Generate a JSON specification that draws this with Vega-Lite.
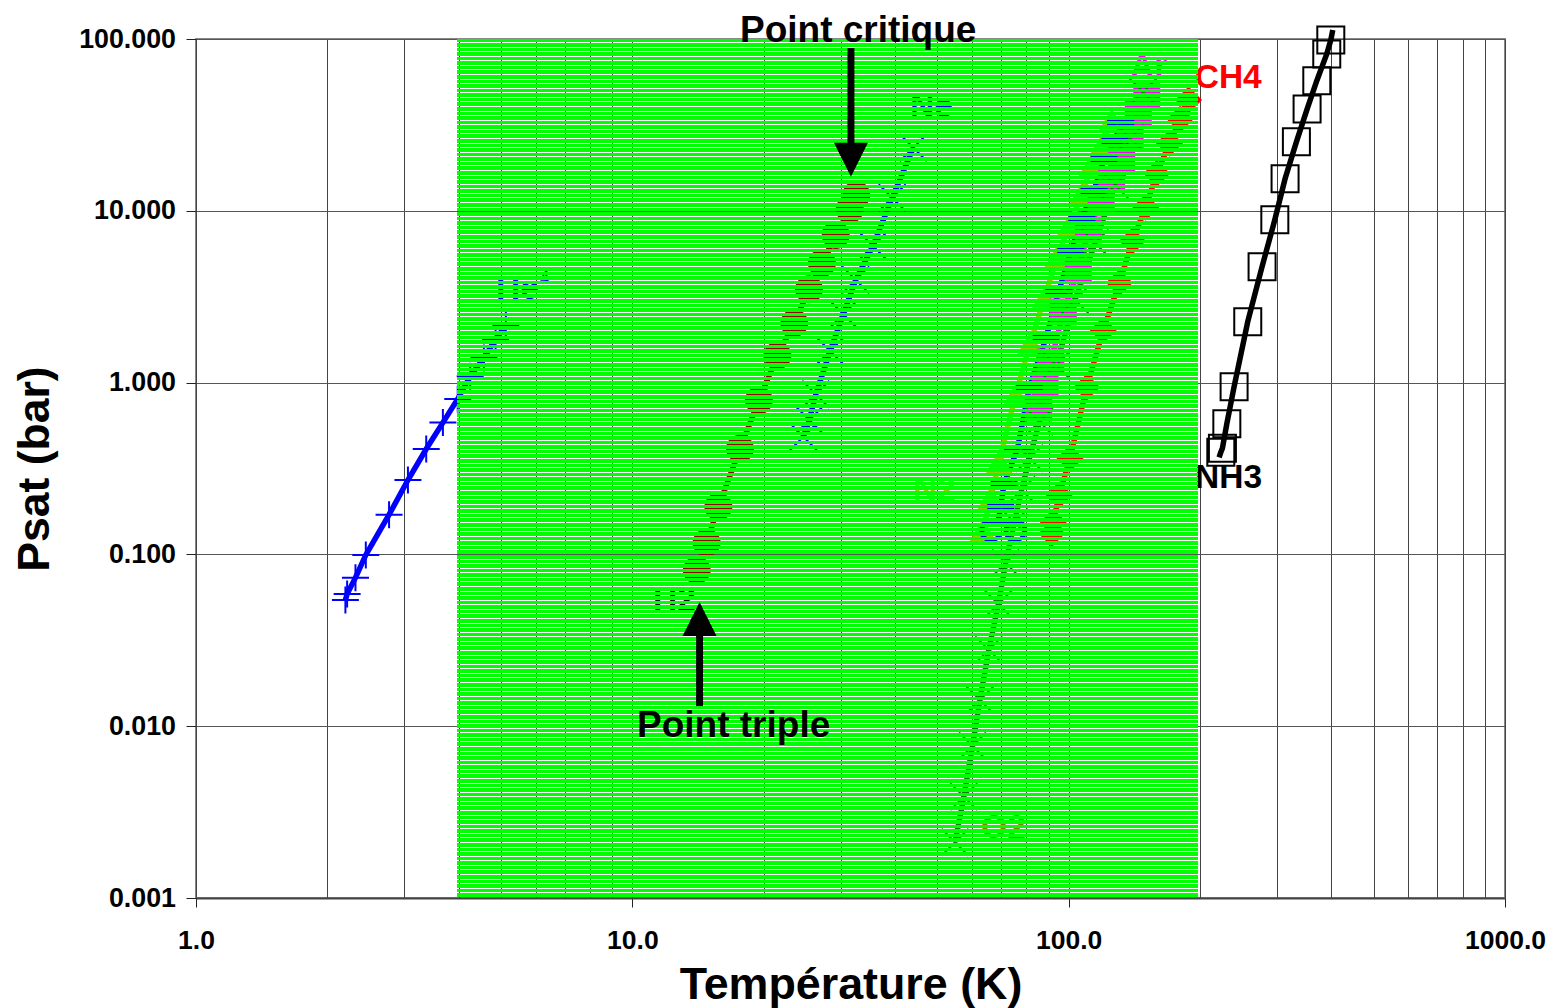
{"$schema":"https://vega.github.io/schema/vega-lite/v6.json","width":1309,"height":859,"autosize":{"type":"none"},"padding":{"left":196,"top":39,"right":46,"bottom":110},"background":"white","config":{"view":{"stroke":"#888888","strokeWidth":2},"font":"Liberation Sans"},"datasets":{"curves":[
{"series":"He","T":2.2,"P":0.0543},{"series":"He","T":2.22,"P":0.0588},{"series":"He","T":2.32,"P":0.0732},{"series":"He","T":2.45,"P":0.0993},{"series":"He","T":2.77,"P":0.1703},{"series":"He","T":3.06,"P":0.271},{"series":"He","T":3.37,"P":0.4106},{"series":"He","T":3.68,"P":0.585},{"series":"He","T":3.98,"P":0.803},{"series":"He","T":4.25,"P":1.09},{"series":"He","T":4.57,"P":1.39},{"series":"He","T":4.86,"P":1.786},{"series":"He","T":5.13,"P":2.156},
{"series":"H2","T":14.05,"P":0.0811},{"series":"H2","T":14.8,"P":0.117},{"series":"H2","T":15.75,"P":0.1896},{"series":"H2","T":17.65,"P":0.4125},{"series":"H2","T":19.5,"P":0.789},{"series":"H2","T":21.5,"P":1.434},{"series":"H2","T":23.5,"P":2.22},{"series":"H2","T":25.4,"P":3.49},{"series":"H2","T":27.2,"P":4.95},{"series":"H2","T":29.25,"P":7.23},{"series":"H2","T":31.5,"P":10.2},{"series":"H2","T":32.6,"P":12.36},
{"series":"Ne","T":24.66,"P":0.484},{"series":"Ne","T":25.45,"P":0.606},{"series":"Ne","T":26.33,"P":0.855},{"series":"Ne","T":28.4,"P":1.527},{"series":"Ne","T":30.45,"P":2.5},{"series":"Ne","T":32.5,"P":3.96},{"series":"Ne","T":35.6,"P":6.24},{"series":"Ne","T":39.4,"P":11.9},{"series":"Ne","T":44.06,"P":23.3},
{"series":"N2","T":63.6,"P":0.1387},{"series":"N2","T":66.3,"P":0.2129},{"series":"N2","T":69.3,"P":0.3464},{"series":"N2","T":75.6,"P":0.847},{"series":"N2","T":81.7,"P":1.7},{"series":"N2","T":88,"P":3.1},{"series":"N2","T":94.2,"P":5.4},{"series":"N2","T":100.6,"P":8.27},{"series":"N2","T":107.5,"P":12.65},{"series":"N2","T":113,"P":18.5},{"series":"N2","T":120,"P":24.7},{"series":"N2","T":125.5,"P":33.8},
{"series":"Ar","T":85.4,"P":0.711},{"series":"Ar","T":88.3,"P":0.968},{"series":"Ar","T":91,"P":1.318},{"series":"Ar","T":97.2,"P":2.576},{"series":"Ar","T":105.2,"P":4.48},{"series":"Ar","T":111,"P":7.73},{"series":"Ar","T":118.7,"P":11.45},{"series":"Ar","T":125.5,"P":15.25},{"series":"Ar","T":132.3,"P":19.95},{"series":"Ar","T":138.3,"P":26.4},{"series":"Ar","T":144.4,"P":37.8},{"series":"Ar","T":151,"P":46.1},
{"series":"CO","T":68.9,"P":0.1543},{"series":"CO","T":69.9,"P":0.1913},{"series":"CO","T":71.1,"P":0.2579},{"series":"CO","T":76.3,"P":0.409},{"series":"CO","T":81.3,"P":0.939},{"series":"CO","T":88.8,"P":1.835},{"series":"CO","T":94.9,"P":3.4},{"series":"CO","T":101.1,"P":5.75},{"series":"CO","T":107.2,"P":9.12},{"series":"CO","T":114.3,"P":13.1},{"series":"CO","T":120.5,"P":19.95},{"series":"CO","T":127.7,"P":25.6},{"series":"CO","T":131.6,"P":32.7},
{"series":"O2","T":54.9,"P":0.00211},{"series":"O2","T":57.5,"P":0.00389},{"series":"O2","T":60.2,"P":0.00767},{"series":"O2","T":62.6,"P":0.0142},{"series":"O2","T":65.6,"P":0.0278},{"series":"O2","T":69,"P":0.0514},{"series":"O2","T":71.7,"P":0.0891},{"series":"O2","T":75.1,"P":0.1538},{"series":"O2","T":78,"P":0.237},{"series":"O2","T":81.3,"P":0.3626},{"series":"O2","T":85.7,"P":0.592},{"series":"O2","T":93.6,"P":1.266},{"series":"O2","T":103.4,"P":3.03},{"series":"O2","T":114.9,"P":6.5},{"series":"O2","T":127.7,"P":14.1},{"series":"O2","T":138.3,"P":26.5},{"series":"O2","T":148.1,"P":49.1},
{"series":"CH4","T":91.5,"P":0.1324},{"series":"CH4","T":92.2,"P":0.1538},{"series":"CH4","T":95.1,"P":0.2218},{"series":"CH4","T":100.7,"P":0.3626},{"series":"CH4","T":110,"P":0.939},{"series":"CH4","T":120,"P":2.02},{"series":"CH4","T":130.7,"P":3.81},{"series":"CH4","T":140,"P":6.67},{"series":"CH4","T":150.2,"P":10.5},{"series":"CH4","T":159.2,"P":16.5},{"series":"CH4","T":170.2,"P":24.7},{"series":"CH4","T":180,"P":34.1},{"series":"CH4","T":188.3,"P":44.2},
{"series":"NH3","T":221.2,"P":0.3674,"end":1},{"series":"NH3","T":223.2,"P":0.3929},{"series":"NH3","T":225.1,"P":0.4147},{"series":"NH3","T":230.4,"P":0.5766},{"series":"NH3","T":239.4,"P":0.946},{"series":"NH3","T":257.3,"P":2.263},{"series":"NH3","T":277.5,"P":4.73},{"series":"NH3","T":296.8,"P":8.87},{"series":"NH3","T":313.3,"P":15.37},{"series":"NH3","T":332.6,"P":25.2},{"series":"NH3","T":351.9,"P":39.1},{"series":"NH3","T":370.4,"P":57.2},{"series":"NH3","T":390.4,"P":81.8},{"series":"NH3","T":398.8,"P":98.7},{"series":"NH3","T":403,"P":112.8,"end":1}
],"names":[{"series":"He","T":4.87,"P":3.07},{"series":"H2","T":11.15,"P":0.0475},{"series":"Ne","T":43.3,"P":35.2},{"series":"N2","T":44,"P":0.2073},{"series":"CO","T":62,"P":0.1181},{"series":"O2","T":63,"P":0.002235},{"series":"Ar","T":138.3,"P":59.3},{"series":"CH4","T":194.5,"P":51.9},{"series":"NH3","T":194.9,"P":0.2435}],
"small":[{"note":"4","T":6.14,"P":3.8}],
"band":[{"T":28.01,"P":100,"P2":0.001}],
"shafts":[{"T":31.7,"P":88.6,"P2":23.8},{"T":14.26,"P":0.0354,"P2":0.0131}],
"headsDown":[{"T":31.7,"P":19.8}],"headsUp":[{"T":14.26,"P":0.0421}],
"notes":[{"note":"Point critique","T":17.65,"P":96},{"note":"Point triple","T":10.25,"P":0.00865}]},
"encoding":{"x":{"field":"T","type":"quantitative","scale":{"type":"log","domain":[1,1000],"nice":false},"axis":{"values":[1,2,3,4,5,6,7,8,9,10,20,30,40,50,60,70,80,90,100,200,300,400,500,600,700,800,900,1000],"grid":true,"gridColor":"#444444","gridWidth":1,"domainColor":"#444444","domainWidth":2,"tickColor":"#222222","tickSize":9,"tickOpacity":{"expr":"indexof([1,10,100,1000],datum.value)>=0?1:0"},"labelExpr":"indexof([1,10,100,1000],datum.value)>=0?format(datum.value,'.1f'):''","labelFontSize":26.5,"labelFontWeight":"bold","labelColor":"black","labelPadding":20,"labelOverlap":false,"labelBound":false,"labelFlush":false,"title":"Température (K)","titleFontSize":44.8,"titleFontWeight":"bold","titleColor":"black","titlePadding":10}},"y":{"field":"P","type":"quantitative","scale":{"type":"log","domain":[0.001,100],"nice":false},"axis":{"values":[0.001,0.01,0.1,1,10,100],"format":".3f","grid":true,"gridColor":"#555555","gridWidth":1,"domainColor":"#444444","domainWidth":1,"tickColor":"#222222","tickSize":10,"labelFontSize":26.8,"labelFontWeight":"bold","labelColor":"black","labelPadding":10.5,"labelOverlap":false,"labelBound":false,"labelFlush":false,"title":"Psat (bar)","titleFontSize":44.5,"titleFontWeight":"bold","titleColor":"black","titlePadding":21.5}}},
"layer":[
{"data":{"name":"curves"},"mark":{"type":"line","strokeWidth":5.5,"clip":false},"encoding":{"color":{"field":"series","type":"nominal","legend":null,"scale":{"domain":["He","H2","Ne","N2","Ar","CO","O2","CH4","NH3"],"range":["#0000ff","#990000","#0000ff","#99cc00","#ff00ff","#0000ff","#008000","#ff0000","#000000"]}}}},
{"data":{"name":"curves"},"transform":[{"filter":"datum.series==='He'"}],"mark":{"type":"point","shape":"M-1,0L1,0M0,-1L0,1","size":729,"filled":false,"stroke":"#0000ff","strokeWidth":2,"opacity":1}},
{"data":{"name":"curves"},"transform":[{"filter":"datum.series==='H2'"}],"mark":{"type":"point","shape":"circle","size":784,"filled":true,"fill":"#990000","opacity":1}},
{"data":{"name":"curves"},"transform":[{"filter":"datum.series==='Ne'"}],"mark":{"type":"point","shape":"M-1,-1L1,1M-1,1L1,-1","size":729,"filled":false,"stroke":"#0000ff","strokeWidth":2,"opacity":1}},
{"data":{"name":"curves"},"transform":[{"filter":"datum.series==='N2'"}],"mark":{"type":"point","shape":"triangle-up","size":729,"filled":true,"fill":"#99cc00","opacity":1}},
{"data":{"name":"curves"},"transform":[{"filter":"datum.series==='Ar'"}],"mark":{"type":"point","shape":"square","size":729,"filled":true,"fill":"#ff00ff","opacity":1}},
{"data":{"name":"curves"},"transform":[{"filter":"datum.series==='CO'"}],"mark":{"type":"point","shape":"M-1,-0.3L1,-0.3L1,0.3L-1,0.3Z","size":729,"filled":true,"fill":"#0000ff","opacity":1}},
{"data":{"name":"curves"},"transform":[{"filter":"datum.series==='O2'"}],"mark":{"type":"point","shape":"M-1,-1L1,1M-1,1L1,-1","size":729,"filled":false,"stroke":"#008000","strokeWidth":2,"opacity":1}},
{"data":{"name":"curves"},"transform":[{"filter":"datum.series==='CH4'"}],"mark":{"type":"point","shape":"diamond","size":729,"filled":true,"fill":"#ff0000","opacity":1}},
{"data":{"name":"curves"},"transform":[{"filter":"datum.series==='NH3' && !datum.end"}],"mark":{"type":"point","shape":"square","size":729,"filled":false,"stroke":"#000000","strokeWidth":2,"opacity":1}},
{"data":{"name":"names"},"mark":{"type":"text","align":"left","baseline":"alphabetic","fontSize":33.5,"fontWeight":"bold","font":"Liberation Sans"},"encoding":{"text":{"field":"series"},"fill":{"field":"series","type":"nominal","legend":null,"scale":{"domain":["He","H2","Ne","N2","CO","O2","Ar","CH4","NH3"],"range":["#0000ff","#000000","#0000ff","#99cc00","#0000ff","#808000","#ff00ff","#ff0000","#000000"]}}}},
{"data":{"name":"small"},"mark":{"type":"text","align":"left","baseline":"alphabetic","fontSize":16,"fontWeight":"bold","font":"Liberation Sans","fill":"#0000ff"},"encoding":{"text":{"field":"note"}}},
{"data":{"name":"band"},"mark":{"type":"rule","stroke":"#00ff00","strokeWidth":741,"strokeDash":[4,1,3,1,4,1,3,1,4,1,3,1,4,1],"strokeDashOffset":28},"encoding":{"y2":{"field":"P2"}}},
{"data":{"name":"shafts"},"mark":{"type":"rule","stroke":"#000000","strokeWidth":7},"encoding":{"y2":{"field":"P2"}}},
{"data":{"name":"headsDown"},"mark":{"type":"point","shape":"M-1,-1L1,-1L0,1Z","size":1156,"filled":true,"fill":"#000000","opacity":1}},
{"data":{"name":"headsUp"},"mark":{"type":"point","shape":"M-1,1L1,1L0,-1Z","size":1156,"filled":true,"fill":"#000000","opacity":1}},
{"data":{"name":"notes"},"mark":{"type":"text","align":"left","baseline":"alphabetic","fontSize":37,"fontWeight":"bold","font":"Liberation Sans","fill":"#000000"},"encoding":{"text":{"field":"note"}}}
]}
